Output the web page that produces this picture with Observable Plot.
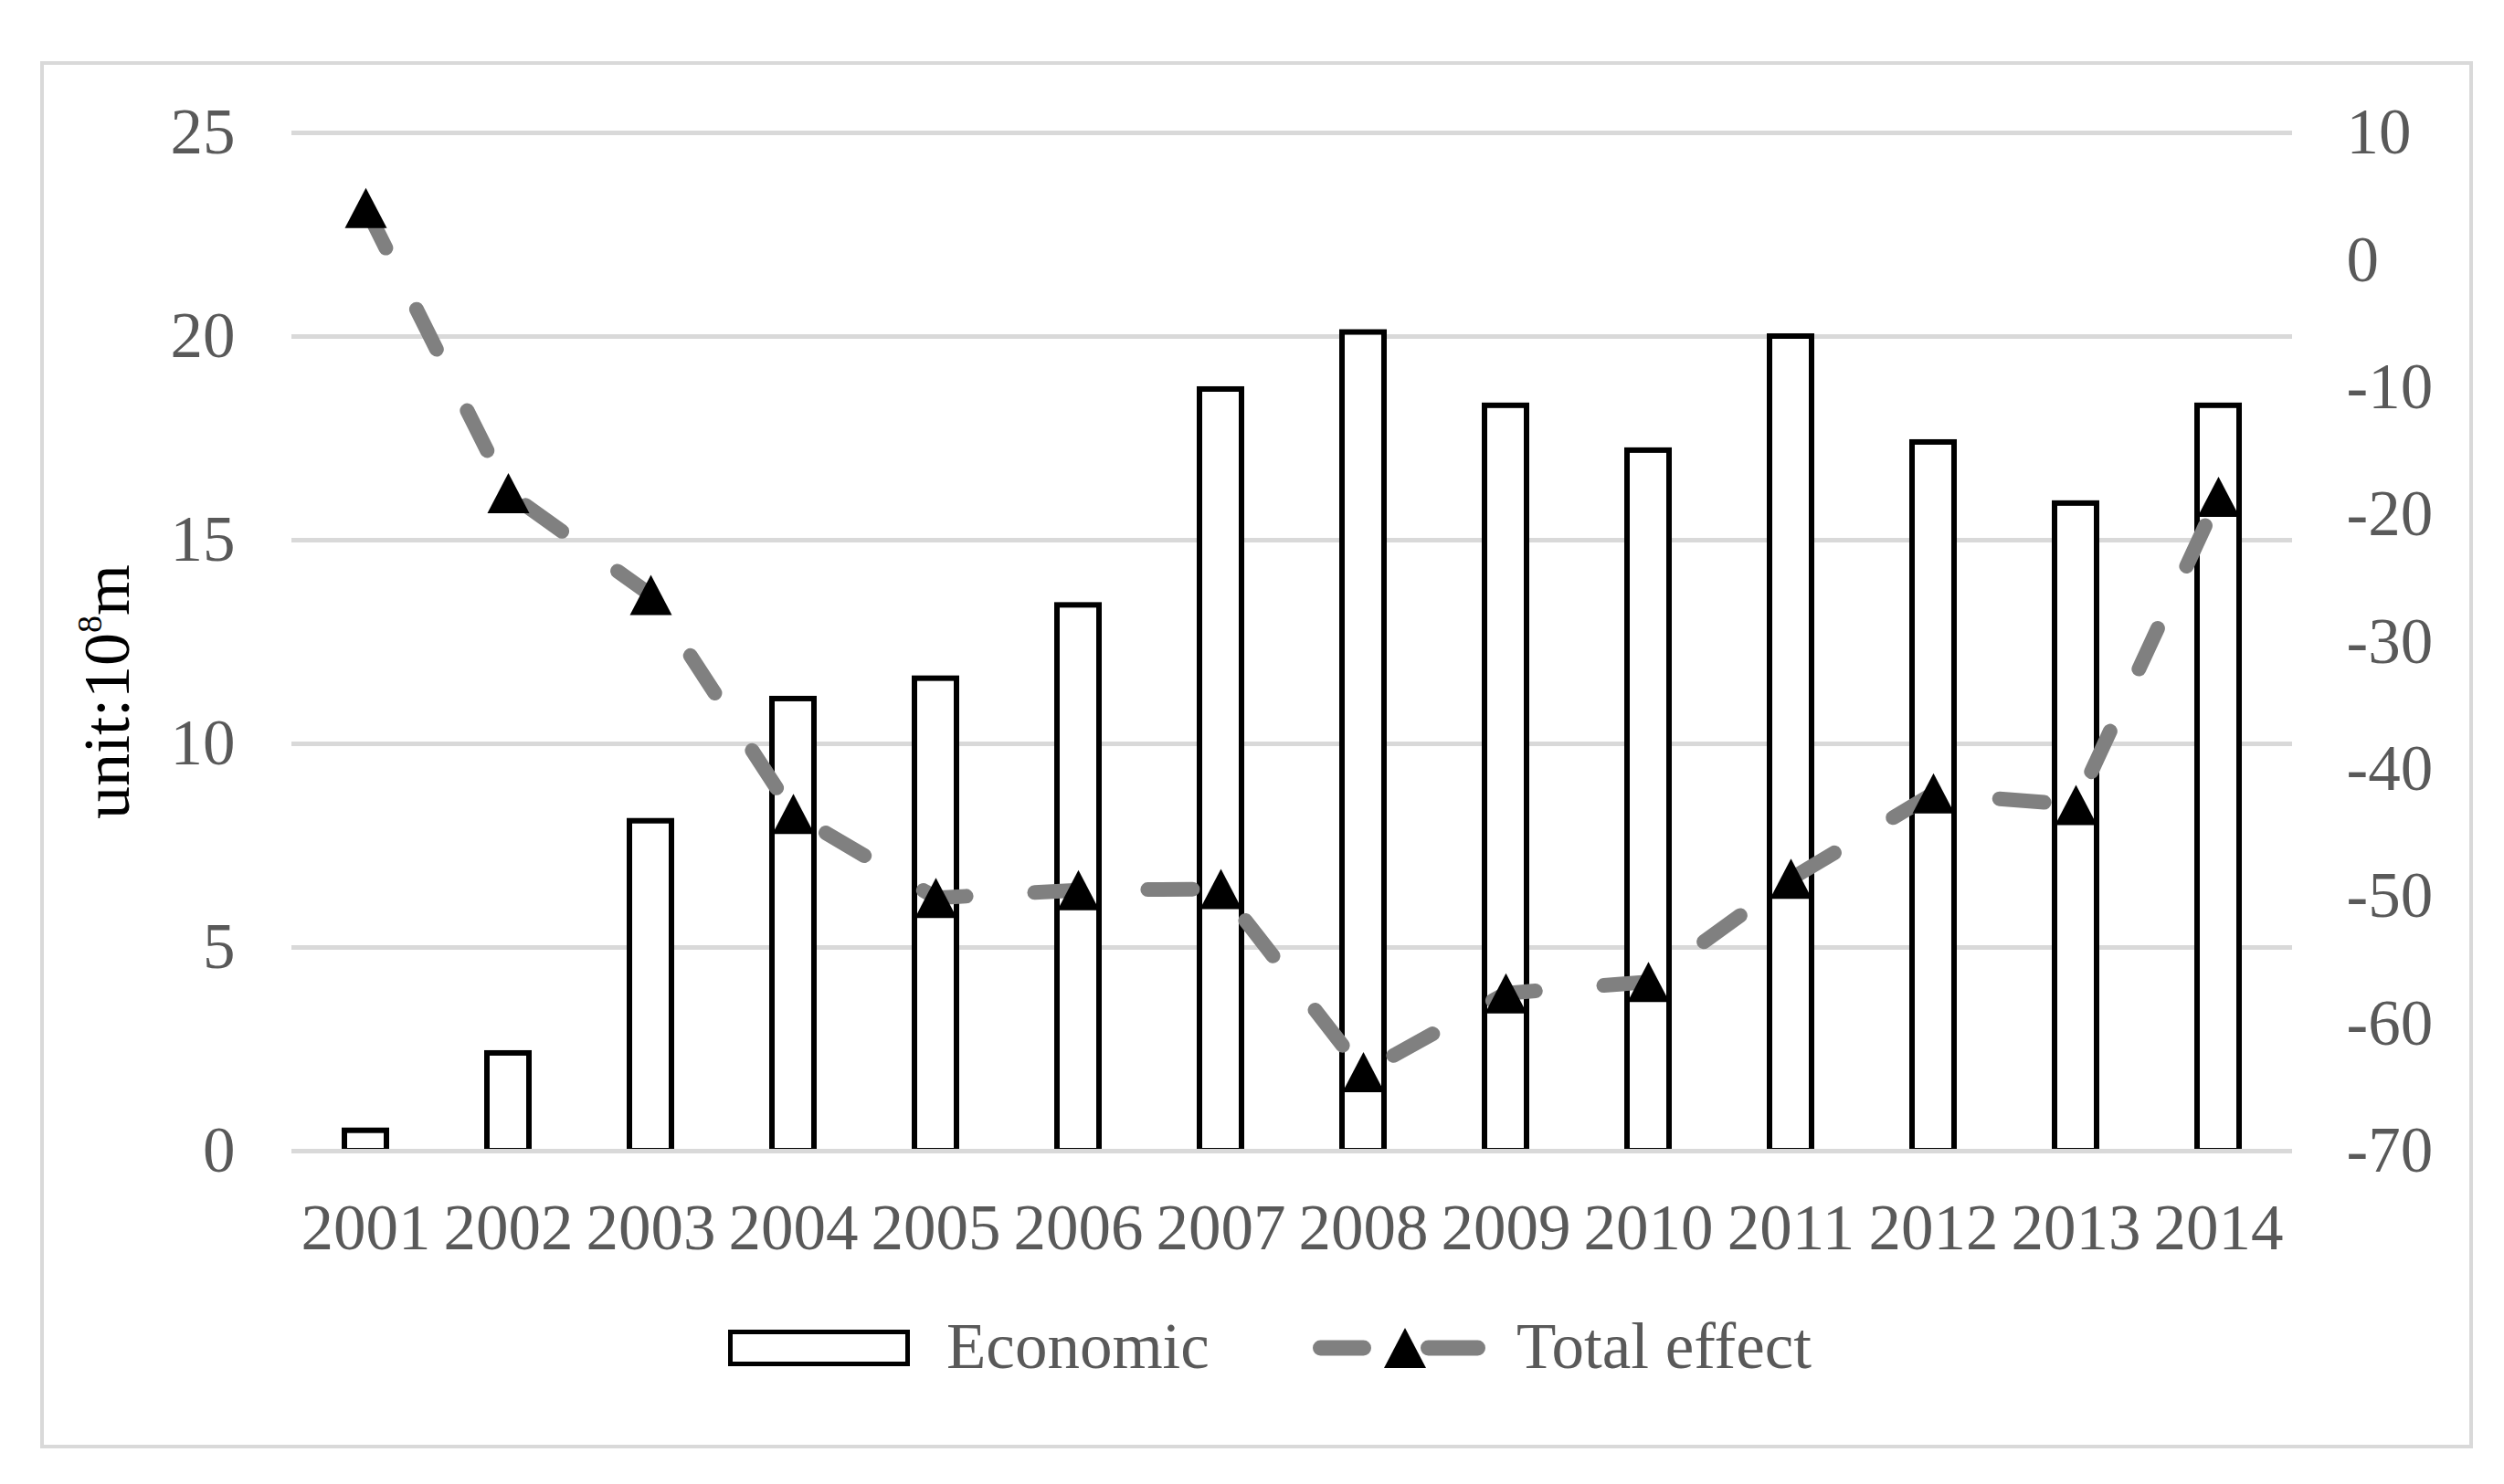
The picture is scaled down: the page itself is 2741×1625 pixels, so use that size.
<!DOCTYPE html>
<html>
<head>
<meta charset="utf-8">
<script src="https://cdn.jsdelivr.net/npm/d3@7"></script>
<script src="https://cdn.jsdelivr.net/npm/@observablehq/plot@0.6"></script>
<style>
  html, body { margin: 0; padding: 0; background: #ffffff; width: 2741px; height: 1625px; overflow: hidden; }
  #chart { position: absolute; left: 0; top: 0; }
  #frame { position: absolute; left: 44px; top: 67px; width: 2663px; height: 1519px; border: 4px solid #d9d9d9; box-sizing: border-box; pointer-events: none; }
  #legend { position: absolute; left: 0; top: 1410px; }
</style>
</head>
<body>
<div id="chart"></div>
<div id="frame"></div>
<svg id="legend" width="2741" height="160"></svg>
<script>
// ---- data ----
const years = ["2001","2002","2003","2004","2005","2006","2007","2008","2009","2010","2011","2012","2013","2014"];
const economic = [0.5, 2.4, 8.1, 11.1, 11.6, 13.4, 18.7, 20.1, 18.3, 17.2, 20.0, 17.4, 15.9, 18.3];
const totalEffect = [4.1, -18.3, -26.3, -43.5, -50.1, -49.5, -49.4, -63.8, -57.6, -56.7, -48.6, -41.9, -42.8, -18.6];
const leftTicks = [0, 5, 10, 15, 20, 25];
const rightTicks = [-70, -60, -50, -40, -30, -20, -10, 0, 10];
const yTitleParts = ["unit:10", "8", "m"];
const seriesNames = ["Economic", "Total effect"];

// right axis domain [-70, 10] mapped onto left domain [0, 25]
const toLeft = v => (v + 70) * 25 / 80;
const fromLeft = v => v * 80 / 25 - 70;

const rows = years.map((year, i) => ({year, economic: economic[i], total: totalEffect[i]}));

const tri = {
  draw(ctx) {
    ctx.moveTo(0, -22);
    ctx.lineTo(23, 22);
    ctx.lineTo(-23, 22);
    ctx.closePath();
  }
};

const font = "'Liberation Serif', 'Times New Roman', serif";

const chart = Plot.plot({
  width: 2741,
  height: 1405,
  marginTop: 145,
  marginBottom: 145,
  marginLeft: 319,
  marginRight: 232,
  style: {fontFamily: font, fontSize: "71px", color: "#595959", background: "transparent"},
  x: {type: "band", domain: years, paddingInner: 0.706, paddingOuter: 0.353},
  y: {domain: [0, 25]},
  marks: [
    Plot.ruleY(leftTicks, {stroke: "#d9d9d9", strokeWidth: 5}),
    Plot.barY(rows, {x: "year", y: "economic", fill: "white", stroke: "black", strokeWidth: 6}),
    Plot.ruleY([0], {stroke: "#d9d9d9", strokeWidth: 5}),
    Plot.line(rows, {x: "year", y: d => toLeft(d.total), stroke: "#808080", strokeWidth: 16,
      strokeDasharray: "49,75", strokeLinecap: "round", strokeLinejoin: "round"}),
    Plot.dot(rows, {x: "year", y: d => toLeft(d.total), symbol: tri, r: 10, fill: "black"}),
    Plot.axisX({tickSize: 0, tickPadding: 57, label: null}),
    Plot.axisY({ticks: leftTicks, anchor: "left", tickSize: 0, tickPadding: 62, label: null, tickFormat: d => String(d)}),
    Plot.axisY({ticks: rightTicks.map(toLeft), anchor: "right", tickSize: 0, tickPadding: 59, label: null,
      tickFormat: d => String(Math.round(fromLeft(d)))}),
    Plot.text([yTitleParts.join("")], {text: d => d, frameAnchor: "top-left", dx: 140 - 319, dy: 757 - 145,
      rotate: -90, fill: "black", fontSize: 72, textAnchor: "middle", lineAnchor: "bottom"})
  ]
});
document.getElementById("chart").appendChild(chart);

// superscript in the y-axis title
const ns = "http://www.w3.org/2000/svg";
const titleEl = Array.from(chart.querySelectorAll("text")).find(t => t.textContent === yTitleParts.join(""));
if (titleEl) {
  titleEl.textContent = "";
  const a = document.createElementNS(ns, "tspan"); a.textContent = yTitleParts[0];
  const b = document.createElementNS(ns, "tspan"); b.textContent = yTitleParts[1];
  b.setAttribute("dy", "-30"); b.setAttribute("font-size", "38");
  const c = document.createElementNS(ns, "tspan"); c.textContent = yTitleParts[2];
  c.setAttribute("dy", "30"); c.setAttribute("font-size", "72");
  titleEl.append(a, b, c);
}

// legend (below the plot)
const lg = d3.select("#legend");
const oy = 1410;
lg.append("rect").attr("x", 799.5).attr("y", 1458.5 - oy).attr("width", 194).attr("height", 35)
  .attr("fill", "white").attr("stroke", "black").attr("stroke-width", 5);
lg.append("text").attr("x", 1036).attr("y", 1498 - oy).text(seriesNames[0])
  .attr("font-family", font).attr("font-size", 71).attr("fill", "#595959");
[[1445.5, 1492.5], [1563.5, 1617.5]].forEach(([x1, x2]) => {
  lg.append("line").attr("x1", x1).attr("x2", x2).attr("y1", 1476 - oy).attr("y2", 1476 - oy)
    .attr("stroke", "#808080").attr("stroke-width", 17).attr("stroke-linecap", "round");
});
lg.append("path").attr("transform", `translate(1538,${1476 - oy})`)
  .attr("d", "M0,-22L23,22L-23,22Z").attr("fill", "black");
lg.append("text").attr("x", 1660).attr("y", 1498 - oy).text(seriesNames[1])
  .attr("font-family", font).attr("font-size", 71).attr("fill", "#595959");
</script>
</body>
</html>
